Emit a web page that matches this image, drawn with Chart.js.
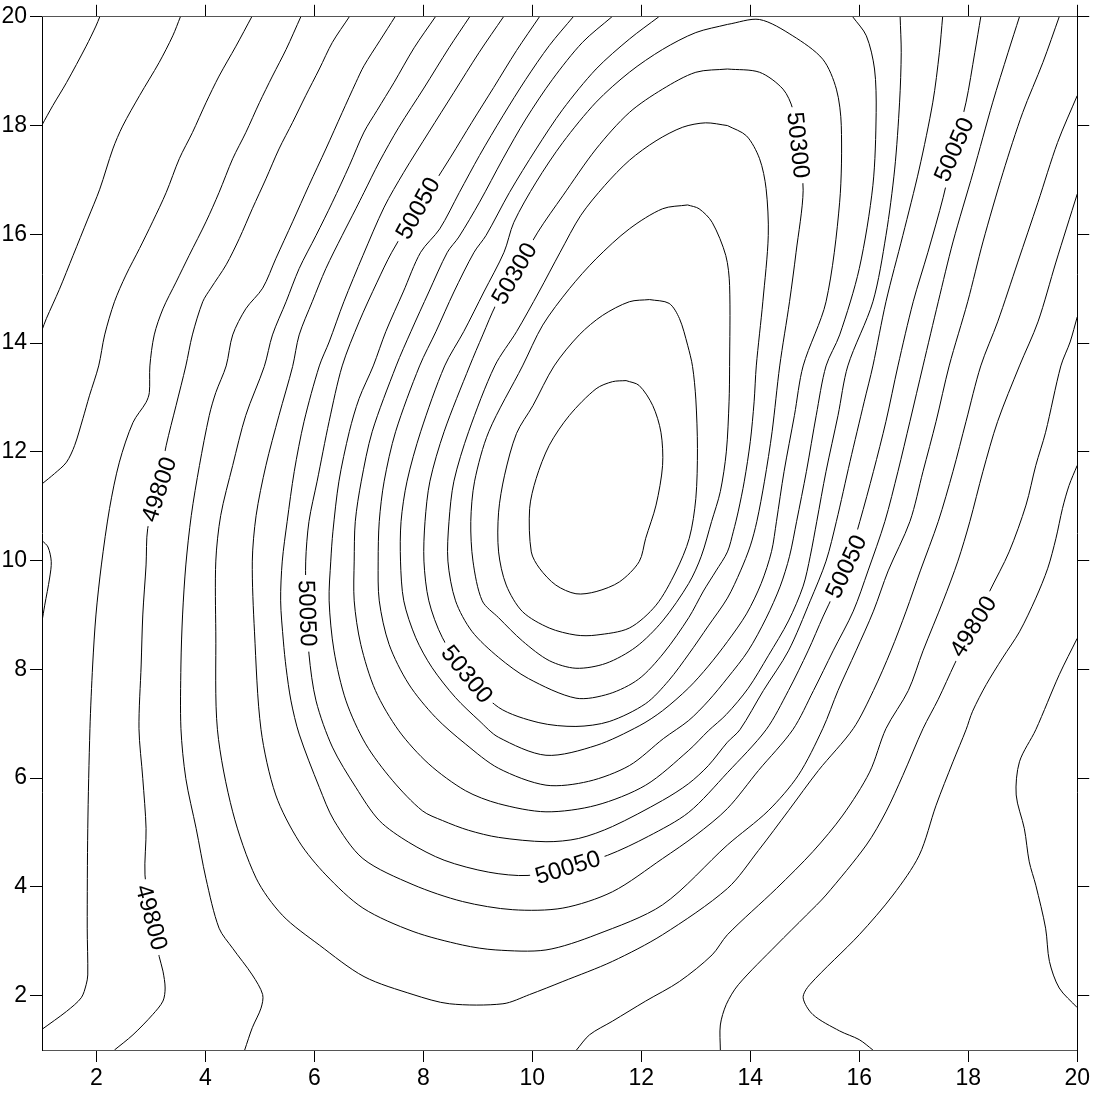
<!DOCTYPE html>
<html lang="en">
<head>
    <meta charset="UTF-8">
    <title>Contour map</title>
    <style>
        html, body { margin: 0; padding: 0; background: #fff; }
        #wrap { width: 1093px; height: 1093px; }
    </style>
    <script src="https://cdn.jsdelivr.net/npm/chart.js"></script>
</head>
<body>
<div id="wrap"><canvas id="contourChart" width="1093" height="1093"></canvas></div>
<script>
// tick values on both axes
const xTicks = [2, 4, 6, 8, 10, 12, 14, 16, 18, 20];
const yTicks = [2, 4, 6, 8, 10, 12, 14, 16, 18, 20];

// contour lines, [x, y] (interval 50)
const c49600 = [[1.0,18.01],[1.2,18.37],[1.45,18.79],[1.81,19.46],[1.99,19.83],[2.06,20]];
const c49650 = [[1.0,14.24],[1.08,14.45],[1.32,14.99],[1.57,15.61],[1.84,16.28],[2.06,16.83],[2.30,17.57],[2.48,17.99],[2.79,18.55],[3.15,19.16],[3.40,19.65],[3.54,20]];
const c49700a = [[1.0,11.41],[1.23,11.60],[1.45,11.81],[1.60,12.12],[1.75,12.61],[1.87,13.03],[2.04,13.58],[2.15,14.15],[2.33,14.76],[2.54,15.25],[2.79,15.74],[3.03,16.23],[3.28,16.77],[3.52,17.39],[3.76,17.87],[4.01,18.42],[4.25,18.91],[4.56,19.46],[4.85,20]];
const c49700b = [[1.0,10.37],[1.11,10.25],[1.17,9.98],[1.14,9.68],[1.05,9.18],[1.0,8.88]];
const c49700c = [[20.0,8.57],[19.67,7.90],[19.24,6.89],[18.94,6.30],[18.88,5.69],[19.03,5.07],[19.12,4.46],[19.24,4.03],[19.42,3.24],[19.49,2.63],[19.67,2.14],[20.0,1.78]];
const c49750a = [[1.0,1.38],[1.45,1.71],[1.72,1.96],[1.81,2.20],[1.84,2.38],[1.83,3.24],[1.84,5.07],[1.88,6.91],[1.93,8.08],[1.99,9.0],[2.09,9.92],[2.24,10.96],[2.42,11.81],[2.67,12.54],[2.91,12.91],[2.97,13.09],[2.98,13.58],[3.06,14.15],[3.22,14.63],[3.46,15.12],[3.70,15.61],[4.01,16.23],[4.25,16.77],[4.50,17.39],[4.74,17.87],[4.99,18.42],[5.23,18.91],[5.48,19.40],[5.75,20]];
const c49750b = [[20.0,11.75],[19.85,11.38],[19.73,10.96],[19.61,10.41],[19.46,9.86],[19.24,9.31],[18.94,8.69],[18.63,8.21],[18.33,7.72],[18.08,7.23],[17.96,6.89],[17.72,6.30],[17.41,5.50],[17.10,4.58],[16.62,3.85],[16.0,3.12],[15.09,2.20],[14.97,1.96],[15.15,1.65],[15.64,1.35],[16.0,1.19],[16.25,1.0]];
const c49800a = [[2.33,1.0],[2.67,1.28],[3.03,1.65],[3.22,1.90],[3.26,2.14],[3.22,2.45],[3.15,2.72],[3.0,3.45],[2.89,4.22],[2.91,5.07],[2.85,5.99],[2.78,6.91],[2.82,8.08],[2.85,9.0],[2.91,9.92],[2.94,10.59],[3.12,11.3],[3.28,12.12],[3.46,12.85],[3.64,13.58],[3.76,14.15],[3.95,14.76],[4.10,15.01],[4.38,15.44],[4.62,15.92],[4.86,16.47],[5.11,17.02],[5.35,17.57],[5.60,18.06],[5.84,18.55],[6.09,19.04],[6.33,19.53],[6.64,20]];
const c49800b = [[13.45,1.0],[13.45,1.46],[13.56,1.84],[13.78,2.20],[14.48,2.93],[15.03,3.48],[15.39,3.85],[16.13,4.77],[16.49,5.38],[16.80,6.05],[17.17,6.91],[17.45,7.45],[17.75,8.10],[18.09,8.79],[18.39,9.43],[18.75,10.16],[19.06,11.02],[19.24,11.75],[19.42,12.36],[19.70,13.58],[19.87,14.02],[20.0,14.48]];
const c49850a = [[4.72,1.0],[4.86,1.41],[5.02,1.77],[5.05,2.02],[4.86,2.38],[4.50,2.87],[4.25,3.24],[4.01,4.15],[3.83,5.07],[3.64,5.99],[3.55,6.91],[3.55,8.08],[3.58,9.0],[3.64,9.92],[3.74,10.83],[3.89,11.75],[4.07,12.67],[4.19,13.09],[4.38,13.58],[4.50,14.15],[4.74,14.63],[5.05,15.01],[5.29,15.55],[5.60,16.23],[5.90,16.90],[6.21,17.57],[6.51,18.24],[6.76,18.79],[6.91,19.10],[7.20,19.56],[7.48,20]];
const c49850b = [[10.81,1.0],[11.05,1.28],[11.47,1.53],[12.08,1.90],[12.70,2.26],[13.30,2.75],[13.58,3.12],[14.48,3.97],[15.15,4.65],[15.70,5.32],[16.19,6.11],[16.49,6.91],[16.90,7.61],[17.17,8.34],[17.54,9.26],[17.81,9.99],[18.03,10.72],[18.27,11.64],[18.54,12.56],[18.94,13.58],[19.28,14.39],[19.61,15.49],[20.0,16.74]];
const c49900 = [[8.22,20.0],[7.83,19.43],[7.46,18.79],[7.15,18.28],[6.91,17.88],[6.64,17.26],[6.33,16.59],[6.03,15.98],[5.72,15.37],[5.48,14.76],[5.23,14.15],[5.08,13.57],[4.74,12.67],[4.50,11.75],[4.28,10.83],[4.19,9.99],[4.19,8.69],[4.22,6.89],[4.50,5.38],[4.93,4.16],[5.41,3.48],[6.09,2.93],[6.91,2.35],[7.81,2.02],[8.48,1.85],[9.46,1.85],[9.95,2.02],[10.56,2.26],[11.47,2.63],[12.39,3.12],[13.58,3.97],[14.15,4.67],[14.70,5.40],[15.25,6.14],[15.89,6.91],[16.26,7.61],[16.58,8.34],[16.86,9.07],[17.12,9.81],[17.45,10.72],[17.72,11.64],[17.96,12.56],[18.23,13.58],[18.54,14.39],[18.91,15.49],[19.28,16.59],[19.64,17.69],[20.0,18.55]];
const c49950 = [[8.85,20.0],[8.47,19.43],[8.01,18.69],[7.55,17.97],[7.19,17.33],[6.91,16.77],[6.76,16.47],[6.51,15.98],[6.21,15.37],[5.96,14.76],[5.72,14.15],[5.60,13.57],[5.35,12.67],[5.11,11.75],[4.93,10.83],[4.86,9.99],[4.90,8.69],[5.02,6.89],[5.29,5.69],[5.72,4.83],[6.21,4.22],[6.89,3.61],[7.81,3.18],[8.72,2.93],[9.33,2.84],[10.25,2.84],[11.17,3.12],[12.39,3.67],[13.58,4.77],[14.33,5.40],[14.88,6.05],[15.33,6.91],[15.61,7.61],[15.94,8.34],[16.26,9.07],[16.53,9.81],[16.93,10.72],[17.17,11.64],[17.41,12.56],[17.65,13.58],[17.99,14.76],[18.27,15.86],[18.64,17.14],[19.0,18.24],[19.37,19.16],[19.67,20.0]];
const c50000 = [[9.47,20.0],[9.02,19.34],[8.56,18.61],[8.10,17.88],[7.64,17.14],[7.28,16.50],[6.89,15.61],[6.54,14.76],[6.27,14.02],[6.09,13.58],[5.81,12.56],[5.63,11.64],[5.50,10.72],[5.41,9.99],[5.38,9.26],[5.43,8.52],[5.48,8.03],[5.57,7.42],[5.72,6.81],[6.09,5.83],[6.36,5.22],[6.89,4.52],[7.81,4.04],[8.72,3.73],[9.64,3.58],[10.56,3.61],[11.47,3.91],[12.39,4.52],[13.0,4.95],[13.58,5.44],[14.15,6.14],[14.78,6.89],[15.16,7.61],[15.52,8.34],[15.89,9.07],[16.16,9.81],[16.47,10.72],[16.71,11.64],[16.93,12.56],[17.17,13.58],[17.45,14.76],[17.72,15.86],[18.09,17.14],[18.45,18.43],[18.73,19.34],[18.94,20.0]];
const c50050 = [[10.13,20.0],[9.71,19.38],[9.29,18.70],[8.89,18.06],[8.50,17.42],[7.92,16.50],[7.42,15.67],[7.15,15.12],[6.82,14.39],[6.51,13.58],[6.27,12.56],[6.05,11.46],[5.90,10.72],[5.84,9.99],[5.85,9.26],[5.90,8.28],[6.03,7.42],[6.33,6.57],[6.76,5.83],[7.19,5.22],[7.73,4.82],[8.38,4.49],[9.20,4.27],[9.92,4.21],[10.65,4.36],[11.38,4.58],[12.13,4.93],[12.87,5.37],[13.58,6.10],[14.29,6.89],[14.70,7.61],[15.06,8.34],[15.34,8.98],[15.76,9.89],[16.01,10.72],[16.26,11.64],[16.49,12.56],[16.71,13.58],[16.99,14.76],[17.26,15.67],[17.54,16.68],[17.74,17.56],[17.96,18.43],[18.12,19.34],[18.23,20.0]];
const c50100 = [[10.75,20.0],[10.31,19.47],[9.88,18.85],[9.46,18.18],[9.03,17.45],[8.66,16.77],[8.30,16.10],[7.95,15.67],[7.63,14.94],[7.31,14.21],[7.08,13.58],[6.82,12.98],[6.64,12.37],[6.45,11.46],[6.34,10.54],[6.30,9.99],[6.27,9.26],[6.36,8.34],[6.58,7.42],[6.94,6.63],[7.43,5.96],[7.98,5.40],[8.35,5.22],[8.83,5.04],[9.38,4.91],[10.25,4.83],[10.85,4.89],[11.47,5.11],[12.39,5.59],[12.87,5.90],[13.23,6.23],[13.58,6.66],[13.81,6.89],[14.24,7.61],[14.70,8.34],[15.10,9.26],[15.39,9.99],[15.58,10.72],[15.83,11.82],[16.09,12.92],[16.25,13.58],[16.49,14.76],[16.80,15.98],[17.10,17.20],[17.35,18.43],[17.47,19.34],[17.53,20.0]];
const c50150 = [[11.46,20.0],[10.92,19.53],[10.37,18.85],[9.88,18.12],[9.46,17.39],[9.03,16.59],[8.65,15.95],[8.44,15.67],[8.10,14.94],[7.77,14.21],[7.50,13.58],[7.06,12.37],[6.86,11.46],[6.75,10.72],[6.73,9.99],[6.73,9.26],[6.85,8.46],[7.12,7.61],[7.55,6.87],[8.10,6.26],[8.77,5.77],[9.38,5.53],[10.25,5.38],[11.17,5.50],[12.08,5.87],[12.87,6.51],[13.23,6.87],[13.56,7.17],[13.96,7.65],[14.33,8.25],[14.70,8.89],[14.97,9.53],[15.10,10.08],[15.22,10.72],[15.39,11.64],[15.61,12.67],[15.79,13.58],[16.25,14.76],[16.49,15.98],[16.65,17.20],[16.74,18.43],[16.77,19.34],[16.75,20.0]];
const c50200 = [[12.32,20.0],[11.78,19.59],[11.17,19.04],[10.56,18.30],[10.07,17.57],[9.58,16.77],[9.15,15.98],[8.93,15.67],[8.56,14.94],[8.23,14.21],[7.93,13.58],[7.49,12.37],[7.28,11.46],[7.19,10.72],[7.17,9.99],[7.19,9.26],[7.37,8.46],[7.73,7.73],[8.22,7.12],[8.77,6.63],[9.38,6.18],[10.25,5.87],[11.03,5.94],[11.78,6.23],[12.41,6.73],[12.87,7.06],[13.23,7.42],[13.58,7.84],[13.96,8.34],[14.29,8.94],[14.55,9.53],[14.72,10.08],[14.85,10.72],[15.03,11.64],[15.21,12.67],[15.39,13.58],[15.64,14.15],[16.0,15.37],[16.25,16.90],[16.31,18.24],[16.28,19.04],[16.13,19.65],[15.88,20.0]];
const c50250 = [[13.58,19.86],[13.0,19.71],[12.39,19.40],[11.78,18.98],[11.17,18.43],[10.56,17.69],[10.07,16.96],[9.66,16.22],[9.48,15.67],[9.11,14.94],[8.74,14.21],[8.39,13.58],[7.95,12.37],[7.70,11.46],[7.59,10.72],[7.58,9.99],[7.64,9.26],[7.86,8.58],[8.16,8.03],[8.59,7.48],[9.02,7.06],[9.38,6.75],[10.25,6.42],[11.17,6.60],[11.96,6.96],[12.39,7.24],[12.87,7.66],[13.23,8.06],[13.58,8.51],[13.93,9.02],[14.20,9.58],[14.39,10.17],[14.48,10.72],[14.62,11.64],[14.81,12.67],[14.97,13.58],[15.39,14.76],[15.64,16.59],[15.67,18.0],[15.58,18.67],[15.33,19.22],[14.78,19.65],[14.17,19.95],[13.58,19.86]];
const c50300 = [[13.58,19.04],[13.0,18.98],[12.39,18.67],[11.78,18.24],[11.17,17.57],[10.56,16.71],[10.10,16.04],[9.67,15.28],[9.33,14.70],[9.09,14.15],[8.85,13.58],[8.38,12.37],[8.12,11.46],[8.03,10.72],[8.01,9.99],[8.10,9.26],[8.35,8.58],[8.80,7.91],[9.38,7.30],[10.12,7.02],[10.80,6.95],[11.41,7.04],[12.08,7.37],[12.50,7.79],[12.87,8.28],[13.23,8.80],[13.58,9.31],[13.82,9.81],[14.00,10.27],[14.12,10.72],[14.26,11.46],[14.40,12.37],[14.54,13.58],[14.72,14.76],[14.84,15.67],[14.97,16.81],[14.88,17.64],[14.78,18.30],[14.60,18.67],[14.17,18.98],[13.58,19.04]];
const c50350 = [[13.58,18.0],[13.18,18.05],[12.76,17.97],[12.27,17.72],[11.78,17.36],[11.33,16.90],[10.89,16.35],[10.51,15.67],[10.12,14.94],[9.71,14.21],[9.31,13.58],[8.83,12.37],[8.56,11.46],[8.47,10.72],[8.45,9.99],[8.59,9.26],[8.89,8.70],[9.38,8.22],[9.93,7.83],[10.80,7.47],[11.41,7.55],[11.95,7.82],[12.41,8.30],[12.87,8.95],[13.14,9.44],[13.37,9.81],[13.58,10.16],[13.69,10.54],[13.78,10.91],[13.89,11.46],[14.0,12.19],[14.07,12.92],[14.11,13.58],[14.23,14.76],[14.33,15.98],[14.29,16.84],[14.17,17.39],[13.93,17.81],[13.58,18.0]];
const c50400 = [[12.85,16.54],[12.39,16.47],[11.78,16.10],[11.17,15.55],[10.68,15.0],[10.19,14.33],[9.82,13.58],[9.20,12.37],[8.94,11.46],[8.87,10.72],[8.91,9.99],[9.08,9.26],[9.38,8.95],[9.82,8.52],[10.31,8.16],[10.80,8.02],[11.35,8.11],[11.90,8.41],[12.39,8.89],[12.87,9.58],[13.10,10.08],[13.29,10.72],[13.45,11.27],[13.56,12.0],[13.61,12.92],[13.62,13.57],[13.62,15.06],[13.55,15.61],[13.30,16.22],[13.06,16.47],[12.85,16.54]];
const c50450 = [[12.15,14.80],[12.51,14.73],[12.70,14.45],[12.85,13.96],[12.94,13.57],[13.0,12.97],[13.03,12.06],[13.0,11.14],[12.88,10.41],[12.63,9.79],[12.27,9.18],[11.78,8.76],[11.17,8.63],[10.80,8.63],[10.31,8.76],[9.82,9.06],[9.52,9.55],[9.38,10.16],[9.38,10.89],[9.49,11.57],[9.71,12.34],[10.01,12.85],[10.40,13.58],[10.86,14.15],[11.29,14.51],[11.78,14.76],[12.15,14.80]];
const c50500 = [[11.72,13.31],[11.96,13.22],[12.21,12.85],[12.36,12.36],[12.39,11.75],[12.27,11.02],[12.08,10.41],[11.96,9.98],[11.60,9.61],[11.17,9.43],[10.80,9.39],[10.43,9.55],[10.13,9.86],[9.98,10.16],[9.95,10.96],[10.07,11.51],[10.31,12.12],[10.68,12.67],[11.17,13.16],[11.47,13.29],[11.72,13.31]];

const contourLines = [
    c49600, c49650, c49700a, c49700b, c49700c, c49750a, c49750b,
    c49800a, c49800b, c49850a, c49850b, c49900, c49950, c50000,
    c50050, c50100, c50150, c50200, c50250, c50300, c50350,
    c50400, c50450, c50500
];

// contour labels: level, position on the line, text angle (deg)
const labelLevels = [50050, 50300, 50300, 50050, 49800, 50050, 49800, 50300, 50050, 50050, 49800];
const labelX      = [7.90, 9.67, 14.88, 17.74, 3.15, 5.87, 3.01, 8.80, 10.65, 15.76, 18.09];
const labelY      = [16.48, 15.28, 17.64, 17.56, 11.31, 9.03, 3.44, 7.91, 4.36, 9.89, 8.79];
const labelAngle  = [-61, -60, 84, -67, -72, 88, 75, 51, -17, -65, -58];

const FONT = '"Liberation Sans", Arial, sans-serif';

const datasets = contourLines.map(line => ({
    data: line.map(p => ({ x: p[0], y: p[1] })),
    showLine: true,
    borderColor: '#000',
    borderWidth: 1,
    pointRadius: 0,
    pointHoverRadius: 0,
    fill: false,
    tension: 0.3
}));

// draw the contour values along the lines
const contourLabelPlugin = {
    id: 'contourLabels',
    afterDatasetsDraw(chart) {
        const ctx = chart.ctx;
        const xs = chart.scales.x, ys = chart.scales.y;
        ctx.save();
        ctx.font = '24px ' + FONT;
        ctx.textAlign = 'center';
        ctx.textBaseline = 'middle';
        labelLevels.forEach((lvl, i) => {
            const px = xs.getPixelForValue(labelX[i]);
            const py = ys.getPixelForValue(labelY[i]);
            const text = String(lvl);
            const w = ctx.measureText(text).width;
            ctx.save();
            ctx.translate(px, py);
            ctx.rotate(labelAngle[i] * Math.PI / 180);
            ctx.fillStyle = '#fff';
            ctx.fillRect(-w / 2 - 5, -10, w + 10, 20);
            ctx.fillStyle = '#000';
            ctx.fillText(text, 0, 1);
            ctx.restore();
        });
        ctx.restore();
    }
};

function axis(pos, tickVals, size, showLabels, borderColor) {
    return {
        type: 'linear',
        position: pos,
        min: 1,
        max: 20,
        afterBuildTicks: s => { s.ticks = tickVals.map(v => ({ value: v })); },
        afterFit: s => {
            if (pos === 'left' || pos === 'right') s.width = size; else s.height = size;
        },
        ticks: {
            display: showLabels,
            autoSkip: false,
            maxRotation: 0,
            padding: 3,
            color: '#000',
            font: { family: FONT, size: 23 }
        },
        grid: {
            drawOnChartArea: false,
            drawTicks: true,
            tickLength: 12,
            color: '#000'
        },
        border: { display: true, color: borderColor, width: 1 }
    };
}

const ctx = document.getElementById('contourChart').getContext('2d');
new Chart(ctx, {
    type: 'scatter',
    data: { datasets: datasets },
    options: {
        responsive: false,
        animation: false,
        devicePixelRatio: 1,
        layout: { padding: 0 },
        plugins: {
            legend: { display: false },
            tooltip: { enabled: false }
        },
        scales: {
            x: axis('bottom', xTicks, 43, true, '#555'),
            y: axis('left', yTicks, 42, true, '#000'),
            x2: axis('top', xTicks, 14, false, '#555'),
            y2: axis('right', yTicks, 13, false, '#000')
        }
    },
    plugins: [contourLabelPlugin]
});
</script>
</body>
</html>
